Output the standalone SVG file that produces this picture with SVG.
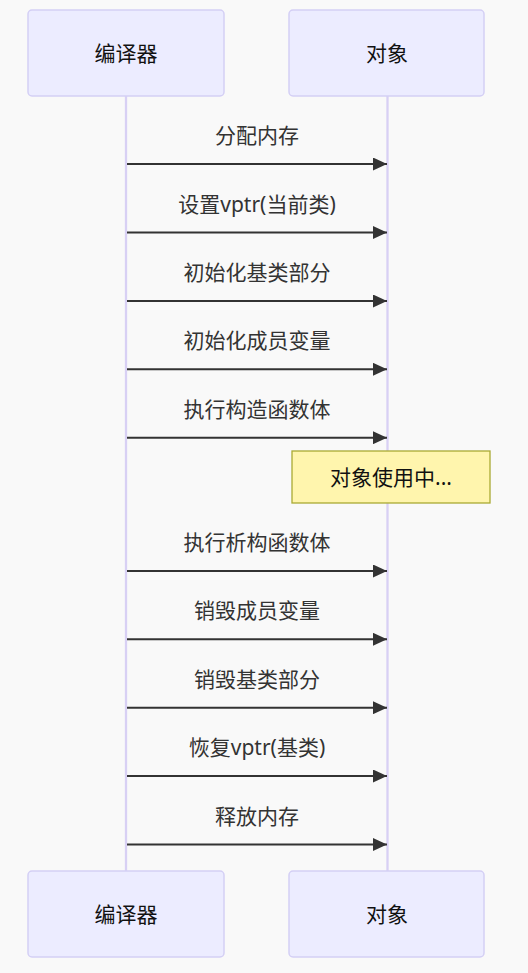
<svg xmlns="http://www.w3.org/2000/svg" width="528" height="973" viewBox="0 0 528 973">
<style>
.actor{fill:#ECECFF;stroke:#D4CFF5;stroke-width:1.5}
.atext{font-family:"Noto Sans","Noto Sans CJK SC",sans-serif;font-size:21px;fill:#111;text-anchor:middle;dominant-baseline:central}
.life{stroke:#D8D0F4;stroke-width:2.3}
.msg{stroke:#333;stroke-width:2;fill:none}
.mtext{font-family:"Noto Sans","Noto Sans CJK SC",sans-serif;font-size:21px;fill:#333;text-anchor:middle;dominant-baseline:central}
.note{fill:#FFF5AD;stroke:#AAAA33;stroke-width:1.3}
</style>
<defs>
<marker id="arr" markerWidth="14" markerHeight="13" refX="14" refY="6.5" orient="auto" markerUnits="userSpaceOnUse">
<path d="M0,0 L14,6.5 L0,13 Z" fill="#333"/>
</marker>
</defs>
<rect width="528" height="973" fill="#F9F9F9"/>
<g id="lifelines">
<line class="life" x1="126" y1="96" x2="126" y2="871"/>
<line class="life" x1="387.5" y1="96" x2="387.5" y2="871"/>
</g>
<g id="actor-compiler-top"><rect class="actor" x="28" y="10" width="196" height="86" rx="4"/><text class="atext" x="126" y="53">编译器</text></g>
<g id="actor-object-top"><rect class="actor" x="289" y="10" width="195" height="86" rx="4"/><text class="atext" x="387" y="53">对象</text></g>
<g id="actor-compiler-bottom"><rect class="actor" x="28" y="871" width="196" height="86" rx="4"/><text class="atext" x="126" y="914">编译器</text></g>
<g id="actor-object-bottom"><rect class="actor" x="289" y="871" width="195" height="86" rx="4"/><text class="atext" x="387" y="914">对象</text></g>
<g id="note"><rect class="note" x="292" y="451" width="198" height="52"/><text class="atext" x="391" y="477">对象使用中...</text></g>
<g id="connectors">
<line class="msg" x1="127" y1="164" x2="387" y2="164" marker-end="url(#arr)"/>
<line class="msg" x1="127" y1="232.5" x2="387" y2="232.5" marker-end="url(#arr)"/>
<line class="msg" x1="127" y1="301" x2="387" y2="301" marker-end="url(#arr)"/>
<line class="msg" x1="127" y1="369.3" x2="387" y2="369.3" marker-end="url(#arr)"/>
<line class="msg" x1="127" y1="437.7" x2="387" y2="437.7" marker-end="url(#arr)"/>
<line class="msg" x1="127" y1="571" x2="387" y2="571" marker-end="url(#arr)"/>
<line class="msg" x1="127" y1="639.3" x2="387" y2="639.3" marker-end="url(#arr)"/>
<line class="msg" x1="127" y1="707.7" x2="387" y2="707.7" marker-end="url(#arr)"/>
<line class="msg" x1="127" y1="776" x2="387" y2="776" marker-end="url(#arr)"/>
<line class="msg" x1="127" y1="844.5" x2="387" y2="844.5" marker-end="url(#arr)"/>
</g>
<g id="labels">
<text class="mtext" x="257" y="135">分配内存</text>
<text class="mtext" x="257" y="203.5">设置vptr(当前类)</text>
<text class="mtext" x="257" y="272">初始化基类部分</text>
<text class="mtext" x="257" y="340.3">初始化成员变量</text>
<text class="mtext" x="257" y="408.7">执行构造函数体</text>
<text class="mtext" x="257" y="542">执行析构函数体</text>
<text class="mtext" x="257" y="610.3">销毁成员变量</text>
<text class="mtext" x="257" y="678.7">销毁基类部分</text>
<text class="mtext" x="257" y="747">恢复vptr(基类)</text>
<text class="mtext" x="257" y="815.5">释放内存</text>
</g>
</svg>
